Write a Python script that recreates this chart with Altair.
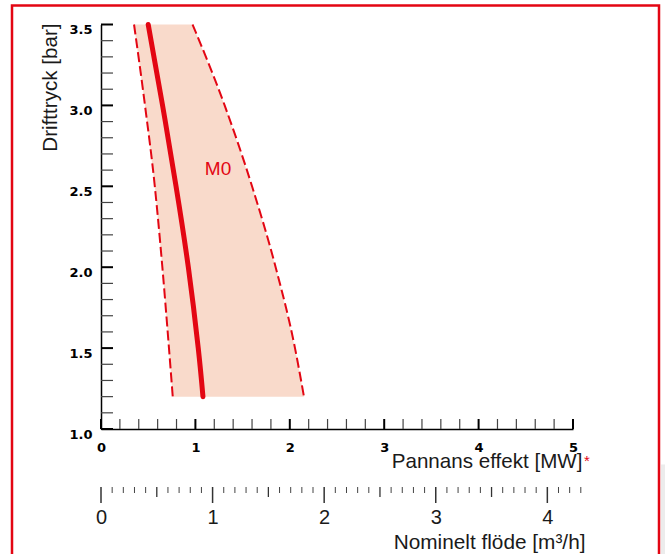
import altair as alt
import pandas as pd

# ---- data ----
pressure = [3.5, 3.0, 2.5, 2.0, 1.5, 1.2]          # bar
m0_power = [0.50, 0.652, 0.795, 0.925, 1.03, 1.08]  # MW, main curve
lower_power = [0.35, 0.466, 0.57, 0.65, 0.72, 0.76]
upper_power = [0.97, 1.31, 1.60, 1.85, 2.055, 2.15]

series_label = ["M0"]
label_power = [1.24]
label_pressure = [2.61]

x_major = [0, 1, 2, 3, 4, 5]
x_minor = [0.2, 0.4, 0.6, 0.8, 1.2, 1.4, 1.6, 1.8, 2.2, 2.4, 2.6, 2.8,
           3.2, 3.4, 3.6, 3.8, 4.2, 4.4, 4.6, 4.8]
y_major = [1.0, 1.5, 2.0, 2.5, 3.0, 3.5]
y_minor = [round(1.0 + 0.1 * i, 1) for i in range(26) if i % 5]
flow_major = [0, 1, 2, 3, 4]
flow_half = [0.5, 1.5, 2.5, 3.5]
flow_minor = [round(0.1 * i, 1) for i in range(44) if i % 5]

RED = "#E30613"
FILL = "#F9DACB"
W, H = 472, 404.5

xs = alt.Scale(domain=[0, 5], nice=False, zero=False)
ys = alt.Scale(domain=[1.0, 3.5], nice=False, zero=False)
fs = alt.Scale(domain=[0, 4.23], nice=False, zero=False)

x_axis = alt.Axis(values=x_major, ticks=False, tickSize=0, grid=False,
                  domainColor="black", domainWidth=1.5,
                  labelFont="DejaVu Sans", labelFontWeight="bold", labelFontSize=13,
                  labelColor="black", labelBaseline="alphabetic", labelPadding=22.5,
                  labelFlush=False, labelOverlap=False,
                  title="Pannans effekt [MW]", titleFont="Liberation Sans", titleFontSize=20.6,
                  titleFontWeight="normal", titleColor="#1a1a1a", titleAlign="right",
                  titleBaseline="alphabetic", titleX=481, titleY=38.5)
y_axis = alt.Axis(values=y_major, format=".1f", ticks=False, tickSize=0, grid=False,
                  domainColor="black", domainWidth=1.5,
                  labelFont="DejaVu Sans", labelFontWeight="bold", labelFontSize=13,
                  labelColor="black", labelBaseline="alphabetic", labelOffset=9,
                  labelPadding=9, labelAlign="right", labelFlush=False, labelOverlap=False,
                  title="Drifttryck [bar]", titleFont="Liberation Sans", titleFontSize=20.6,
                  titleFontWeight="normal", titleColor="#1a1a1a", titleAngle=270,
                  titleAlign="right", titleBaseline="alphabetic", titleX=-44.5, titleY=-1.5)
f_axis = alt.Axis(orient="bottom", offset=58, values=flow_major, ticks=False, tickSize=0,
                  domain=False, grid=False,
                  labelFont="Liberation Sans", labelFontSize=20, labelColor="#1a1a1a",
                  labelBaseline="alphabetic", labelPadding=36, labelFlush=False,
                  labelOverlap=False,
                  title="Nominelt flöde [m³/h]", titleFont="Liberation Sans", titleFontSize=20.8,
                  titleFontWeight="normal", titleColor="#1a1a1a", titleAlign="right",
                  titleBaseline="alphabetic", titleX=484, titleY=61)


def X(f):
    return alt.X(f, type="quantitative", scale=xs, axis=x_axis)


def Y(f):
    return alt.Y(f, type="quantitative", scale=ys, axis=y_axis)


def F(f):
    return alt.X(f, type="quantitative", scale=fs, axis=f_axis)


band = pd.DataFrame({"p": pressure, "lo": lower_power, "hi": upper_power, "m0": m0_power})
lab = pd.DataFrame({"x": label_power, "p": label_pressure, "t": series_label})
dummy = pd.DataFrame({"a": [0]})

area = alt.Chart(band).mark_area(orient="horizontal", color=FILL).encode(
    x=X("lo"), x2=alt.X2("hi"), y=Y("p"))
lo_line = alt.Chart(band).mark_line(color=RED, strokeDash=[10, 4], strokeWidth=2,
                                    interpolate="monotone").encode(
    x=X("lo"), y=Y("p"), order=alt.Order("lo:Q"))
hi_line = alt.Chart(band).mark_line(color=RED, strokeDash=[10, 4], strokeWidth=2,
                                    interpolate="monotone").encode(
    x=X("hi"), y=Y("p"), order=alt.Order("hi:Q"))
m0_line = alt.Chart(band).mark_line(color=RED, strokeWidth=5, strokeCap="round",
                                    interpolate="natural").encode(
    x=X("m0"), y=Y("p"), order=alt.Order("m0:Q"))
m0_text = alt.Chart(lab).mark_text(color=RED, fontSize=19, font="Liberation Sans").encode(
    x=X("x"), y=Y("p"), text="t:N")

y_min_t = alt.Chart(pd.DataFrame({"p": y_minor})).mark_rule(color="#444", strokeWidth=1.2).encode(
    y=Y("p"), x=alt.value(0), x2=alt.value(12))
y_maj_t = alt.Chart(pd.DataFrame({"p": y_major})).mark_rule(color="black", strokeWidth=2).encode(
    y=Y("p"), x=alt.value(0), x2=alt.value(12))
x_min_t = alt.Chart(pd.DataFrame({"v": x_minor})).mark_rule(color="#444", strokeWidth=1.2).encode(
    x=X("v"), y=alt.value(H), y2=alt.value(H - 10))
x_maj_t = alt.Chart(pd.DataFrame({"v": x_major})).mark_rule(color="black", strokeWidth=2).encode(
    x=X("v"), y=alt.value(H), y2=alt.value(H - 10))

border = alt.Chart(dummy).mark_rect(fill="transparent", stroke=RED, strokeWidth=2.5).encode(
    x=alt.value(-89), x2=alt.value(558), y=alt.value(-19), y2=alt.value(545))
grey = alt.Chart(dummy).mark_rect(fill="#ececec").encode(
    x=alt.value(560), x2=alt.value(570), y=alt.value(440), y2=alt.value(545))
star = alt.Chart(dummy).mark_text(text="*", color=RED, fontSize=15, align="left",
                                  baseline="alphabetic", font="Liberation Sans").encode(
    x=alt.value(483), y=alt.value(441))

prim = alt.layer(grey, border, area, lo_line, hi_line, m0_line, m0_text,
                 y_min_t, y_maj_t, x_min_t, x_maj_t, star)

TOP = H + 58
f_maj = alt.Chart(pd.DataFrame({"f": flow_major})).mark_rule(color="#333", strokeWidth=1.5).encode(
    x=F("f"), y=alt.value(TOP), y2=alt.value(TOP + 16))
f_half = alt.Chart(pd.DataFrame({"f": flow_half})).mark_rule(color="#333", strokeWidth=1.3).encode(
    x=F("f"), y=alt.value(TOP), y2=alt.value(TOP + 10))
f_min = alt.Chart(pd.DataFrame({"f": flow_minor})).mark_rule(color="#444", strokeWidth=1).encode(
    x=F("f"), y=alt.value(TOP), y2=alt.value(TOP + 6))
sec = alt.layer(f_maj, f_half, f_min)

chart = alt.layer(prim, sec).resolve_scale(x="independent").properties(
    width=W, height=H,
    padding={"left": 101, "top": 24.5, "right": 92, "bottom": 125},
    autosize=alt.AutoSizeParams(type="none"),
    background="white",
).configure_view(strokeWidth=0)

chart.save("out.html", embed_options={"renderer": "svg", "actions": False})
